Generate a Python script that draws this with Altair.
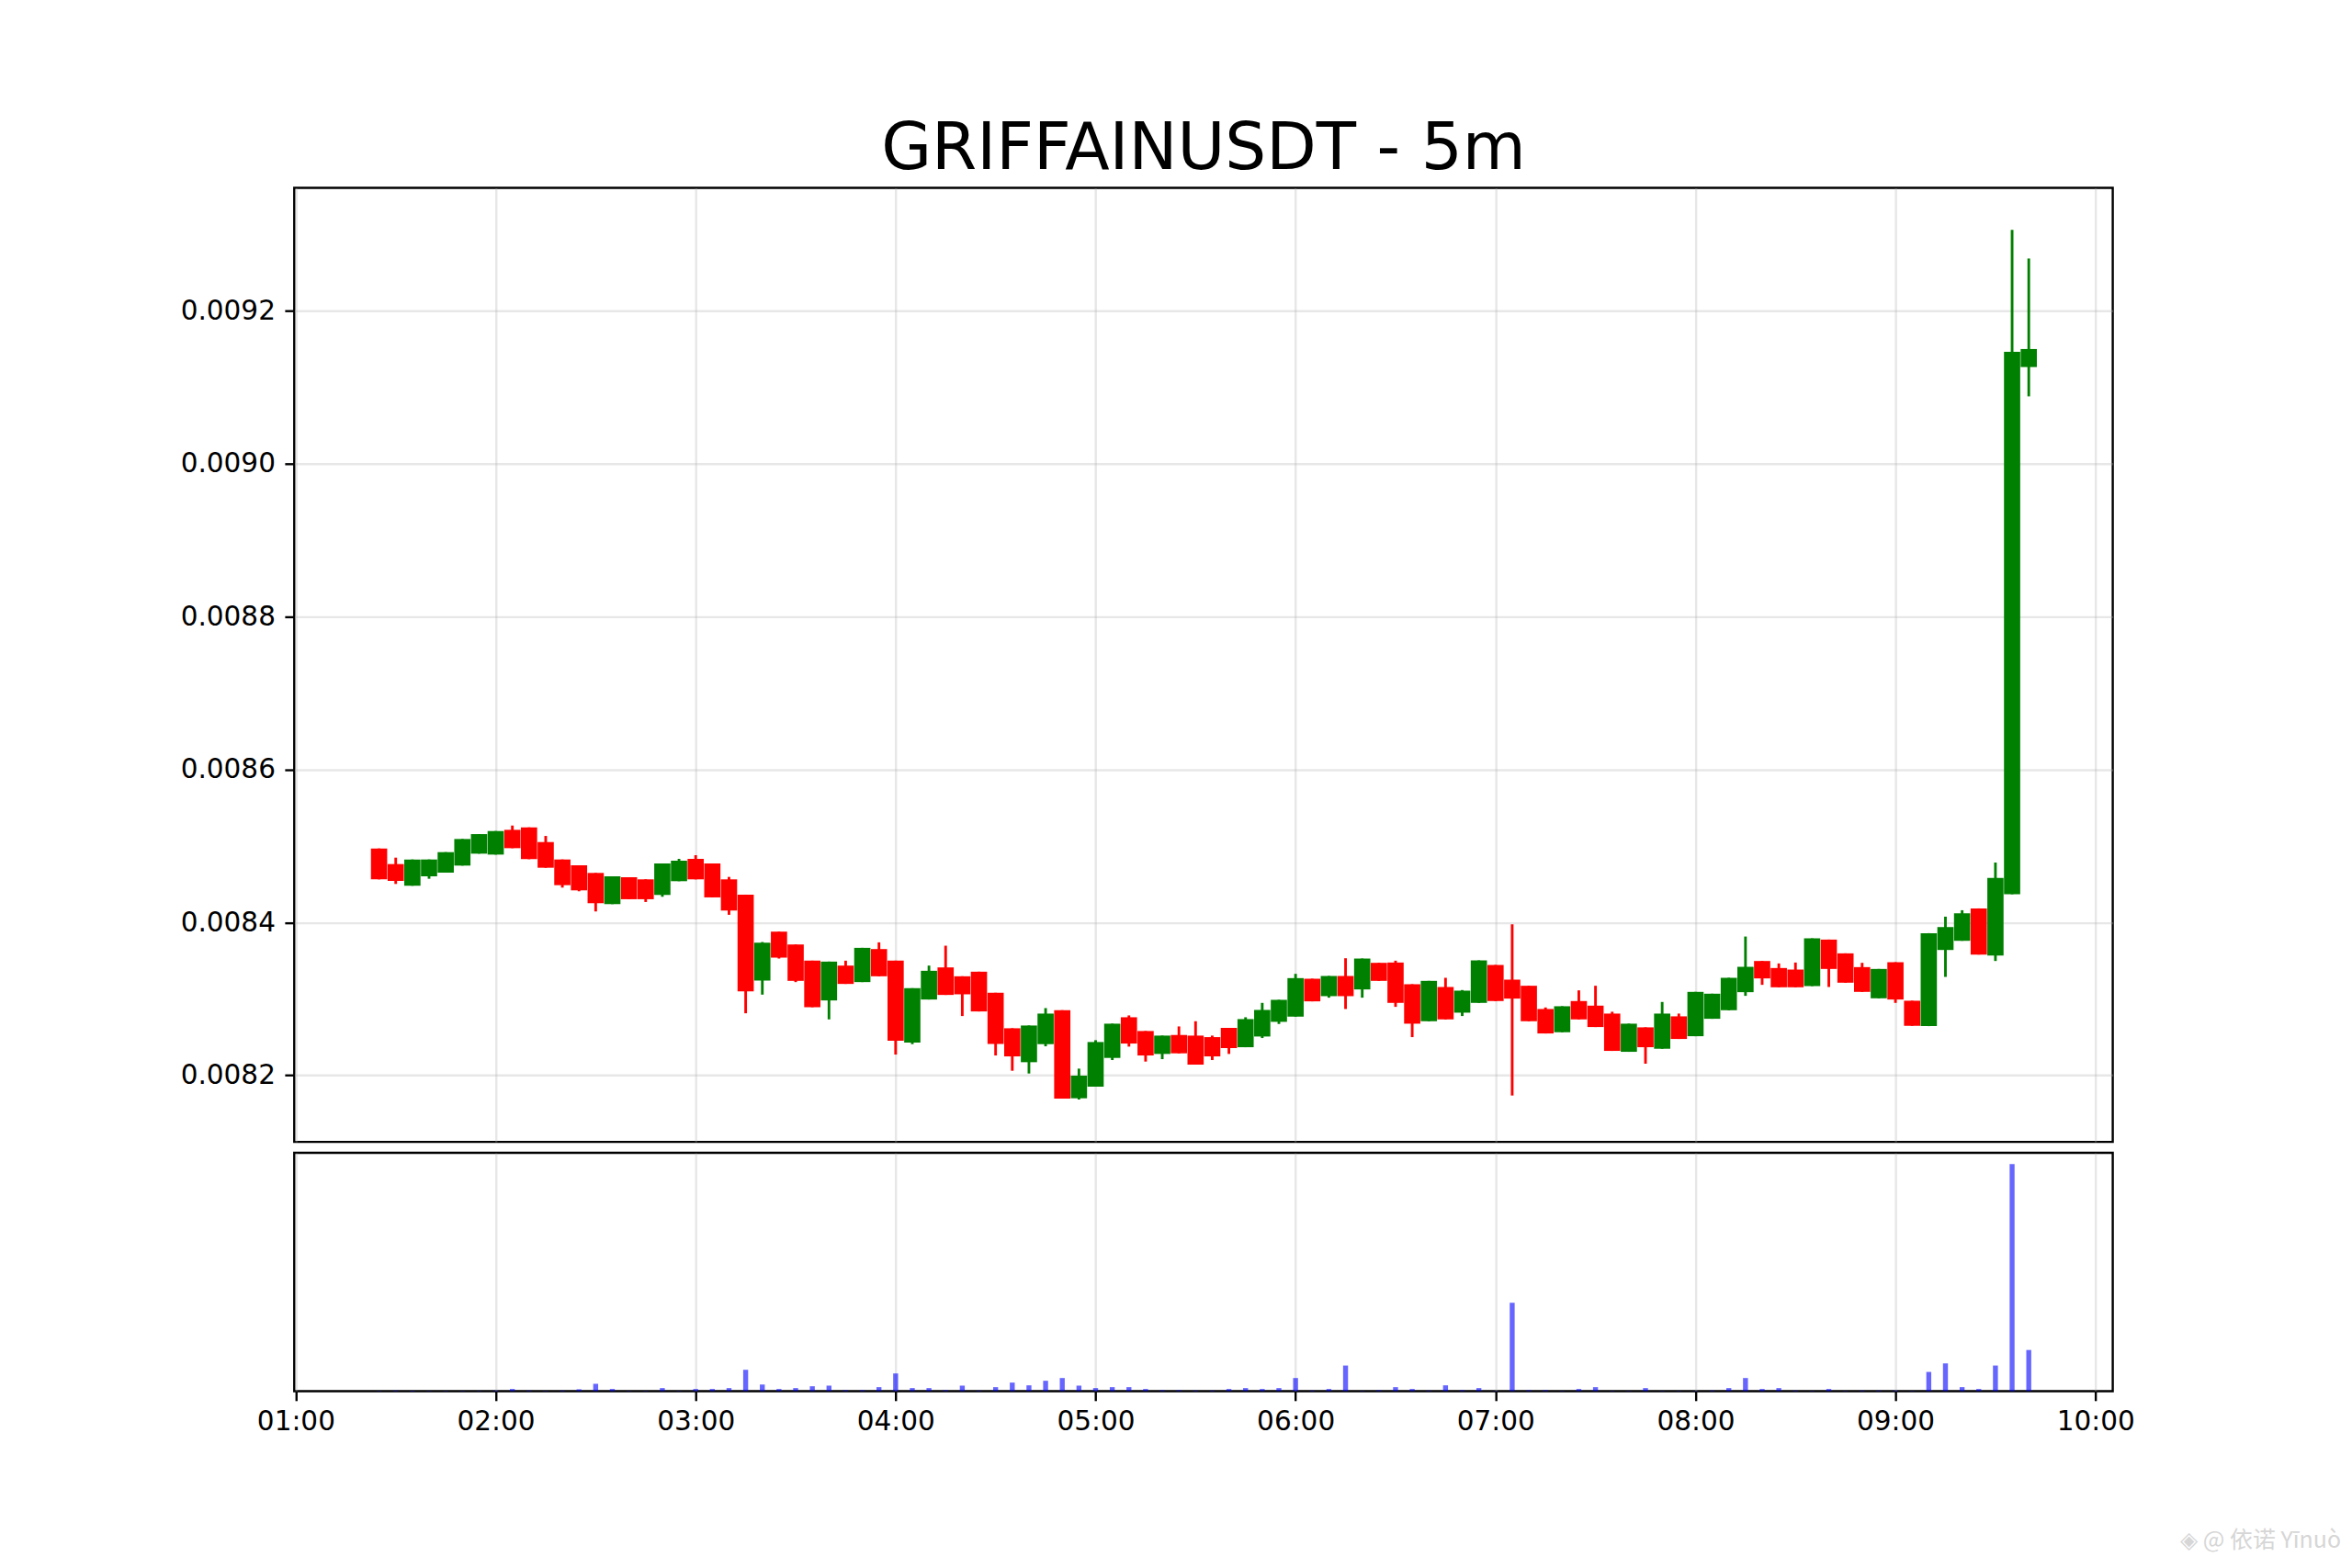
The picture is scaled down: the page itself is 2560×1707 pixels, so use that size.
import altair as alt
import pandas as pd

times = ["01:25","01:30","01:35","01:40","01:45","01:50","01:55","02:00","02:05","02:10",
"02:15","02:20","02:25","02:30","02:35","02:40","02:45","02:50","02:55","03:00",
"03:05","03:10","03:15","03:20","03:25","03:30","03:35","03:40","03:45","03:50",
"03:55","04:00","04:05","04:10","04:15","04:20","04:25","04:30","04:35","04:40",
"04:45","04:50","04:55","05:00","05:05","05:10","05:15","05:20","05:25","05:30",
"05:35","05:40","05:45","05:50","05:55","06:00","06:05","06:10","06:15","06:20",
"06:25","06:30","06:35","06:40","06:45","06:50","06:55","07:00","07:05","07:10",
"07:15","07:20","07:25","07:30","07:35","07:40","07:45","07:50","07:55","08:00",
"08:05","08:10","08:15","08:20","08:25","08:30","08:35","08:40","08:45","08:50",
"08:55","09:00","09:05","09:10","09:15","09:20","09:25","09:30","09:35","09:40"]

directions = list("dduuuuuudd" "ddddudduud" "dddudddudu" "dduudddddu" "uduuuddudd"
                  "dduuuududu" "ddduduuddd" "dudddududu" "uuuddduddd" "udduuuduuu")

tops = [.0084968,.0084764,.0084824,.0084824,.0084920,.0085092,.0085156,.0085196,.0085212,.0085244,
.0085052,.0084824,.0084748,.0084648,.0084604,.0084592,.0084564,.0084772,.0084808,.0084832,
.0084772,.0084564,.0084364,.0083736,.0083880,.0083712,.0083500,.0083488,.0083436,.0083668,
.0083652,.0083500,.0083140,.0083368,.0083412,.0083296,.0083356,.0083080,.0082616,.0082652,
.0082808,.0082852,.0081996,.0082436,.0082676,.0082760,.0082580,.0082520,.0082528,.0082520,
.0082500,.0082620,.0082736,.0082856,.0082988,.0083272,.0083264,.0083300,.0083300,.0083528,
.0083472,.0083476,.0083192,.0083236,.0083156,.0083108,.0083504,.0083444,.0083252,.0083172,
.0082868,.0082904,.0082972,.0082912,.0082808,.0082676,.0082628,.0082808,.0082772,.0083092,
.0083068,.0083276,.0083420,.0083496,.0083404,.0083384,.0083792,.0083776,.0083596,.0083416,
.0083392,.0083480,.0082976,.0083860,.0083940,.0084120,.0084184,.0084584,.0091466,.0091502]

bottoms = [.0084564,.0084544,.0084480,.0084604,.0084652,.0084744,.0084900,.0084888,.0084972,.0084828,
.0084716,.0084488,.0084420,.0084252,.0084240,.0084304,.0084304,.0084360,.0084540,.0084564,
.0084328,.0084156,.0083100,.0083240,.0083540,.0083236,.0082892,.0082980,.0083196,.0083220,
.0083296,.0082452,.0082428,.0082992,.0083052,.0083060,.0082836,.0082412,.0082248,.0082172,
.0082408,.0081696,.0081700,.0081852,.0082228,.0082416,.0082260,.0082280,.0082288,.0082140,
.0082248,.0082356,.0082368,.0082508,.0082700,.0082768,.0082968,.0083036,.0083036,.0083124,
.0083236,.0082948,.0082676,.0082708,.0082732,.0082820,.0082948,.0082972,.0083004,.0082708,
.0082548,.0082564,.0082732,.0082632,.0082320,.0082308,.0082368,.0082348,.0082476,.0082512,
.0082740,.0082852,.0083088,.0083268,.0083152,.0083152,.0083168,.0083392,.0083212,.0083092,
.0083008,.0082992,.0082648,.0082644,.0083640,.0083760,.0083580,.0083568,.0084368,.0091266]

highs = [.0084968,.0084848,.0084824,.0084824,.0084920,.0085092,.0085156,.0085196,.0085268,.0085244,
.0085132,.0084824,.0084748,.0084648,.0084604,.0084592,.0084564,.0084772,.0084832,.0084880,
.0084772,.0084596,.0084364,.0083744,.0083880,.0083712,.0083500,.0083488,.0083500,.0083668,
.0083740,.0083500,.0083140,.0083436,.0083696,.0083296,.0083356,.0083080,.0082616,.0082652,
.0082880,.0082852,.0082088,.0082460,.0082676,.0082784,.0082580,.0082520,.0082640,.0082708,
.0082520,.0082620,.0082760,.0082948,.0082988,.0083328,.0083264,.0083300,.0083532,.0083528,
.0083472,.0083500,.0083192,.0083236,.0083276,.0083116,.0083504,.0083444,.0083976,.0083172,
.0082888,.0082904,.0083112,.0083172,.0082832,.0082676,.0082628,.0082960,.0082808,.0083092,
.0083068,.0083276,.0083816,.0083496,.0083464,.0083476,.0083792,.0083776,.0083596,.0083472,
.0083392,.0083480,.0082976,.0083860,.0084076,.0084160,.0084184,.0084784,.0093061,.0092686]

lows = [.0084564,.0084504,.0084480,.0084572,.0084652,.0084744,.0084900,.0084888,.0084972,.0084828,
.0084716,.0084456,.0084408,.0084144,.0084240,.0084304,.0084268,.0084336,.0084540,.0084564,
.0084328,.0084100,.0082812,.0083056,.0083528,.0083220,.0082892,.0082732,.0083196,.0083220,
.0083296,.0082272,.0082408,.0082992,.0083052,.0082776,.0082836,.0082260,.0082060,.0082024,
.0082380,.0081696,.0081684,.0081852,.0082200,.0082376,.0082180,.0082212,.0082288,.0082140,
.0082200,.0082280,.0082368,.0082488,.0082672,.0082768,.0082968,.0083016,.0082868,.0083016,
.0083236,.0082896,.0082500,.0082708,.0082732,.0082776,.0082948,.0082972,.0081736,.0082708,
.0082548,.0082564,.0082732,.0082632,.0082320,.0082308,.0082152,.0082348,.0082476,.0082512,
.0082740,.0082852,.0083040,.0083184,.0083152,.0083152,.0083168,.0083156,.0083212,.0083092,
.0083008,.0082948,.0082648,.0082644,.0083288,.0083760,.0083580,.0083496,.0084368,.0090883]

volumes = [1,2,1,1,1,1,1,2,7,2,
1,2,6,24,7,1,1,10,1,7,
7,10,70,22,7,10,16,18,3,3,
13,58,10,10,3,18,2,13,28,19,
34,43,18,10,13,13,7,3,3,2,
2,7,10,7,10,43,2,7,84,1,
3,13,7,2,19,3,10,1,290,3,
3,1,7,13,1,1,10,1,1,1,
2,10,43,7,10,2,1,7,1,2,
2,2,1,63,91,13,7,84,745,135]

hour_ticks = [1, 2, 3, 4, 5, 6, 7, 8, 9, 10]
watermark = ["◈ @ 依诺 Yīnuò"]

df = pd.DataFrame({
    "time": ["2025-01-01T" + t + ":00" for t in times],
    "dir": directions, "body_top": tops, "body_bot": bottoms,
    "high": highs, "low": lows, "volume": volumes,
})

FONT = "DejaVu Sans"
x_domain = [alt.DateTime(year=2025, month=1, date=1, hours=0, minutes=59, seconds=33),
            alt.DateTime(year=2025, month=1, date=1, hours=10, minutes=5, seconds=12)]
x_scale = alt.Scale(domain=x_domain, nice=False, padding=0)
tick_values = [alt.DateTime(year=2025, month=1, date=1, hours=h) for h in hour_ticks]
color = alt.Color("dir:N", legend=None,
                  scale=alt.Scale(domain=["u", "d"], range=["#008000", "#ff0000"]))

x_top = alt.X("time:T", scale=x_scale, title=None,
              axis=alt.Axis(labels=False, ticks=False, domain=False, grid=True, values=tick_values))
price_scale = alt.Scale(domain=[0.008113, 0.009361], zero=False, nice=False)
price_axis = alt.Axis(values=[0.0082, 0.0084, 0.0086, 0.0088, 0.0090, 0.0092],
                      format=".4f", grid=True, domain=False, labelPadding=10.5)

wicks = alt.Chart(df).mark_rule(strokeWidth=2.9).encode(
    x=x_top, y=alt.Y("high:Q", title=None, scale=price_scale, axis=price_axis),
    y2="low:Q", color=color)
bodies = alt.Chart(df).mark_bar(size=17.7).encode(
    x=x_top, y=alt.Y("body_top:Q", title=None, scale=price_scale, axis=price_axis),
    y2="body_bot:Q", color=color)

top = alt.layer(wicks, bodies).properties(
    width=1984, height=1041,
    title=alt.TitleParams("GRIFFAINUSDT - 5m", font=FONT, fontSize=71, fontWeight="normal",
                          anchor="middle", color="black", offset=6),
)

x_bottom = alt.X("time:T", scale=x_scale, title=None,
                 axis=alt.Axis(format="%H:%M", grid=True, domain=False, values=tick_values, labelAngle=0))
bars = alt.Chart(df).mark_bar(size=5.4, color="#0000ff", opacity=0.6).encode(
    x=x_bottom,
    y=alt.Y("volume:Q", axis=None, scale=alt.Scale(domain=[0, 782], nice=False)),
)
mark = alt.Chart(pd.DataFrame({"t": watermark})).mark_text(
    align="right", baseline="middle", font="Noto Sans CJK SC", fontSize=25, color="#d6d6d6"
).encode(text="t:N", x=alt.value(2233), y=alt.value(423))
bottom = alt.layer(bars, mark).properties(width=1984, height=260)

chart = alt.vconcat(top, bottom, spacing=8).properties(
    padding={"left": 187, "top": 115, "right": 2, "bottom": 2},
    background="white",
).configure_view(stroke="black", strokeWidth=2.4).configure_axis(
    labelFont=FONT, labelFontSize=29.6, labelColor="black", labelPadding=9,
    tickColor="black", tickWidth=2.4, tickSize=10.4,
    gridColor="#b0b0b0", gridOpacity=0.3, gridWidth=2.4,
)
chart.save("out.html", embed_options={"renderer": "svg", "actions": False})
